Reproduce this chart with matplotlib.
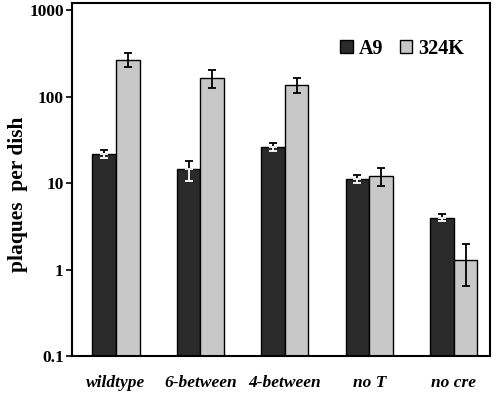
import numpy as np
import matplotlib.pyplot as plt

# data
groups = ['wildtype', '6-between', '4-between', 'no T', 'no cre']
a9 = [22, 14.5, 26.5, 11.2, 4.0]
a9_err = [2.5, 3.8, 2.8, 1.2, 0.4]
k324 = [270, 165, 138, 12.0, 1.3]
k324_err = [50, 38, 27, 2.8, 0.65]

plt.rcParams['font.family'] = ['Liberation Serif', 'DejaVu Serif']
plt.rcParams['font.weight'] = 'bold'

fig = plt.figure(figsize=(4.97, 3.95), dpi=100)
ax = fig.add_axes([0.145, 0.099, 0.841, 0.893])

x = np.arange(len(groups))
w = 0.28
ax.bar(x - w / 2, a9, w, color='#2a2a2a', edgecolor='black', linewidth=1.0, label='A9', zorder=2)
ax.bar(x + w / 2, k324, w, color='#c8c8c8', edgecolor='black', linewidth=1.0, label='324K', zorder=2)

# error bars: on the dark bars the part inside the bar is white
zeros = np.zeros(len(groups))
ax.errorbar(x - w / 2, a9, yerr=[zeros, a9_err], fmt='none', ecolor='black',
            elinewidth=1.3, capsize=3, capthick=1.3, zorder=3)
ax.errorbar(x - w / 2, a9, yerr=[a9_err, zeros], fmt='none', ecolor='white',
            elinewidth=1.3, capsize=3, capthick=1.3, zorder=3)
ax.errorbar(x + w / 2, k324, yerr=k324_err, fmt='none', ecolor='black',
            elinewidth=1.3, capsize=3, capthick=1.3, zorder=3)

ax.set_yscale('log')
ax.set_ylim(0.1, 1215)
ax.set_xlim(-0.52, 4.43)
ax.set_yticks([0.1, 1, 10, 100, 1000])
ax.set_yticklabels(['0.1', '1', '10', '100', '1000'])
ax.minorticks_off()
ax.tick_params(axis='y', direction='out', length=4, width=1.2, labelsize=12.5, pad=2)
ax.tick_params(axis='x', length=0, pad=14, labelsize=12.5)
ax.set_xticks(x)
ax.set_xticklabels(groups, style='italic', fontweight='bold')

for s in ax.spines.values():
    s.set_linewidth(1.5)

ax.set_ylabel('plaques  per dish', fontsize=15.5, fontweight='bold')
ax.yaxis.set_label_coords(-0.105, 0.459)

ax.legend(loc='upper right', bbox_to_anchor=(0.981, 0.95), ncol=2, frameon=False,
          fontsize=14.5, handlelength=0.62, handleheight=0.62, handletextpad=0.3,
          columnspacing=0.8)

fig.savefig('out.png', dpi=100)
